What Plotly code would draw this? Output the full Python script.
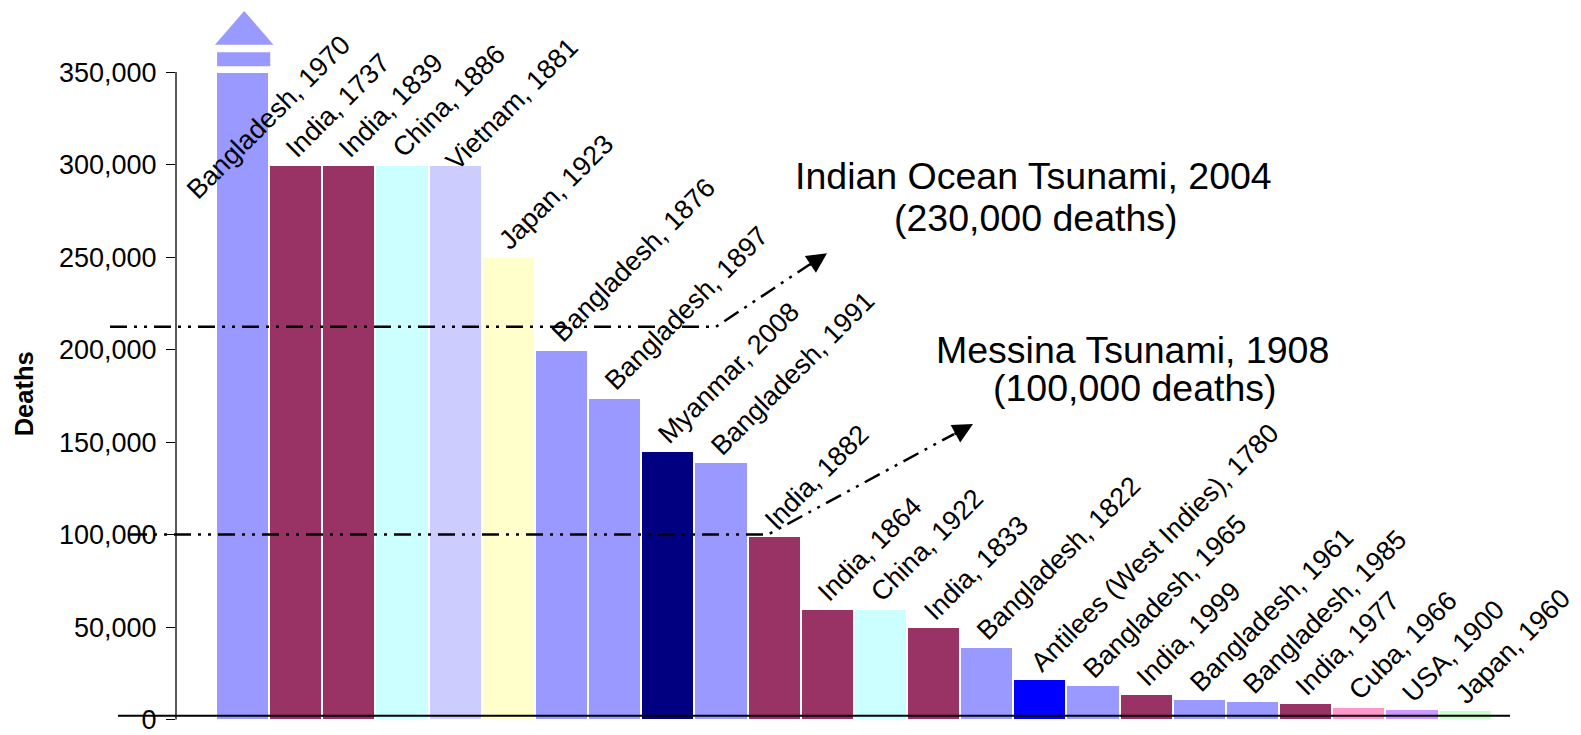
import plotly.graph_objects as go

# ---------------- data ----------------
events = [
    "Bangladesh, 1970", "India, 1737", "India, 1839", "China, 1886", "Vietnam, 1881",
    "Japan, 1923", "Bangladesh, 1876", "Bangladesh, 1897", "Myanmar, 2008", "Bangladesh, 1991",
    "India, 1882", "India, 1864", "China, 1922", "India, 1833", "Bangladesh, 1822",
    "Antilees (West Indies), 1780", "Bangladesh, 1965", "India, 1999", "Bangladesh, 1961",
    "Bangladesh, 1985", "India, 1977", "Cuba, 1966", "USA, 1900", "Japan, 1960",
]
deaths = [
    500000, 300000, 300000, 300000, 300000,
    250000, 200000, 174000, 145000, 139000,
    99000, 60000, 60000, 50000, 39000,
    22000, 18500, 14000, 11000,
    10000, 9000, 7000, 5500, 5000,
]
bar_colors = [
    "#9999FF", "#993366", "#993366", "#CCFFFF", "#CCCCFF",
    "#FFFFCC", "#9999FF", "#9999FF", "#000080", "#9999FF",
    "#993366", "#993366", "#CCFFFF", "#993366", "#9999FF",
    "#0000FF", "#9999FF", "#993366", "#9999FF",
    "#9999FF", "#993366", "#FF99CC", "#CC99FF", "#CCFFCC",
]
tick_values = [0, 50000, 100000, 150000, 200000, 250000, 300000, 350000]
axis_max = 350000          # bars above this are drawn broken
tsunamis = [
    ("Indian Ocean Tsunami, 2004", "(230,000 deaths)"),
    ("Messina Tsunami, 1908", "(100,000 deaths)"),
]

# ---------------- geometry ----------------
W, H = 1581, 735
ML, MR, MT, MB = 176, 5, 5, 0
X_RANGE = [-1.2531, 25.0866]
Y_RANGE = [-5637, 386240]
FONT = "Liberation Sans, Arial, Helvetica, sans-serif"


def xpaper(px):
    return (px - ML) / (W - ML - MR)


def ypaper(py):
    return (H - MB - py) / (H - MT - MB)


def ypaper_val(v):
    return (v - Y_RANGE[0]) / (Y_RANGE[1] - Y_RANGE[0])


def xval(px):
    return X_RANGE[0] + (px - ML) / (W - ML - MR) * (X_RANGE[1] - X_RANGE[0])


def yval(py):
    return Y_RANGE[0] + (H - MB - py) / (H - MT - MB) * (Y_RANGE[1] - Y_RANGE[0])


n = len(events)
xs = list(range(n))
shown = [min(d, axis_max) for d in deaths]

fig = go.Figure()
fig.add_trace(go.Bar(
    x=xs, y=shown, width=1.0,
    marker=dict(color=bar_colors, line=dict(color="white", width=2)),
    hoverinfo="skip", showlegend=False,
))

shapes = []
annotations = []

# broken-bar decoration for values above the axis maximum
for i, d in enumerate(deaths):
    if d > axis_max:
        c = bar_colors[i]
        shapes.append(dict(type="rect", xref="x", yref="y",
                           x0=i - 0.48, x1=i + 0.52,
                           y0=yval(66.7), y1=yval(52.7),
                           fillcolor=c, line=dict(width=0), layer="above"))
        shapes.append(dict(type="path", xref="x", yref="y",
                           path=f"M {i-0.52},{yval(45)} L {i+0.58},{yval(45)} "
                                f"L {i+0.03},{yval(11)} Z",
                           fillcolor=c, line=dict(width=0), layer="above"))

# y axis line (stops at the axis maximum)
shapes.append(dict(type="line", xref="paper", yref="paper",
                   x0=0, x1=0, y0=ypaper_val(0), y1=ypaper_val(axis_max),
                   line=dict(color="black", width=1.3)))
# baseline
shapes.append(dict(type="line", xref="paper", yref="paper",
                   x0=xpaper(118), x1=xpaper(1510), y0=ypaper(720.7), y1=ypaper(720.7),
                   line=dict(color="black", width=2)))

# dash-dot-dot leader lines to the tsunami notes
dash = "17px,7px,3px,7px,3px,7px"
y_io = yval(329)
y_me = 100000
p1 = [(xpaper(110), ypaper_val(y_io)), (xpaper(716), ypaper_val(y_io)), (xpaper(810), ypaper(266))]
p2 = [(xpaper(130), ypaper_val(y_me)), (xpaper(768), ypaper_val(y_me)), (xpaper(954), ypaper(437))]
for pts in (p1, p2):
    path = "M " + " L ".join(f"{a},{b}" for a, b in pts)
    shapes.append(dict(type="path", xref="paper", yref="paper", path=path,
                       line=dict(color="black", width=2.5, dash=dash)))

# arrow heads
for tip, off in (((827, 255), (-19, 12.7)), ((973, 427), (-20, 10.9))):
    annotations.append(dict(xref="paper", yref="paper", x=xpaper(tip[0]), y=ypaper(tip[1]),
                            ax=off[0], ay=off[1], text="", showarrow=True,
                            arrowhead=2, arrowsize=1.6, arrowwidth=2.5, arrowcolor="black"))

# rotated bar labels (pixel nudges for labels moved by hand in the original)
label_nudge = {4: (0, -13)}
for i, (lab, d, s) in enumerate(zip(events, deaths, shown)):
    if d > axis_max:
        lx, ly = i - 0.864, 277300
    else:
        lx, ly = i, s
    nx, ny = label_nudge.get(i, (0, 0))
    annotations.append(dict(x=lx, y=ly, xref="x", yref="y", text=lab, textangle=-45,
                            xanchor="left", yanchor="bottom",
                            xshift=-15.4 + nx, yshift=1.5 + ny,
                            showarrow=False, borderpad=0, borderwidth=0,
                            font=dict(family=FONT, size=27, color="black")))

# tsunami notes
note_pos = [((1033, 177), (1036, 219)), ((1132, 352), (1135, 391))]
for (l1, l2), (a, b) in zip(tsunamis, note_pos):
    for txt, (px, py) in ((l1, a), (l2, b)):
        annotations.append(dict(x=xval(px), y=yval(py), xref="x", yref="y", text=txt,
                                showarrow=False, xanchor="center", yanchor="middle",
                                font=dict(family=FONT, size=37.5, color="black")))

# y axis title
annotations.append(dict(xref="paper", yref="paper", x=xpaper(24), y=ypaper(397),
                        text="<b>Deaths</b>", textangle=-90, showarrow=False,
                        xanchor="center", yanchor="middle",
                        font=dict(family=FONT, size=25.5, color="black")))

fig.update_layout(
    width=W, height=H,
    margin=dict(l=ML, r=MR, t=MT, b=MB, pad=0),
    paper_bgcolor="white", plot_bgcolor="white",
    bargap=0, showlegend=False,
    xaxis=dict(range=X_RANGE, visible=False, fixedrange=True),
    yaxis=dict(range=Y_RANGE, tickvals=tick_values, tickformat=",d",
               showgrid=False, zeroline=False, showline=False,
               ticks="outside", ticklen=9, tickwidth=1.3, tickcolor="black",
               ticklabelstandoff=4, ticklabeloverflow="allow",
               tickfont=dict(family=FONT, size=27, color="black")),
    shapes=shapes, annotations=annotations,
    font=dict(family=FONT),
)

page_css = (
    "document.documentElement.style.overflow='hidden';"
    "document.body.style.margin='0px';"
    "document.body.style.overflow='hidden';"
    "document.querySelectorAll('.plotly-graph-div,.plot-container,.svg-container')"
    ".forEach(function(e){e.style.display='block';e.style.verticalAlign='top';});"
)
fig.write_html("out.html", config={"displayModeBar": False}, post_script=page_css)
